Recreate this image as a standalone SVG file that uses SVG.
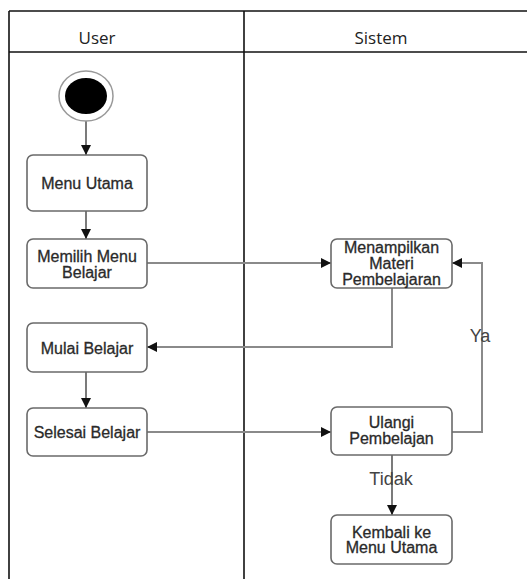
<svg xmlns="http://www.w3.org/2000/svg" width="527" height="579" viewBox="0 0 527 579">
<style>
.frame{stroke:#111;stroke-width:1.6;fill:none}
.hdr{font-family:"Open Sans","Noto Sans",sans-serif;font-size:17px;fill:#222;text-anchor:middle}
.box{fill:#fff;stroke:#6a6a6a;stroke-width:1.6}
.t{font-family:"Liberation Sans",Arial,sans-serif;font-size:16px;fill:#2a2a2a;stroke:#2a2a2a;stroke-width:0.3;text-anchor:middle}
.lbl{font-family:"Liberation Sans",Arial,sans-serif;font-size:18px;fill:#444;text-anchor:middle}
.c{stroke:#8a8a8a;stroke-width:2;fill:none}
.cs{stroke:#222;stroke-width:1.2;fill:none}
</style>
<defs>
<marker id="ah" viewBox="0 0 10 10" refX="10" refY="5" markerWidth="10" markerHeight="10" markerUnits="userSpaceOnUse" orient="auto">
<path d="M0,0 L10,5 L0,10 z" fill="#111"/>
</marker>
</defs>
<rect width="527" height="579" fill="#fff"/>
<g id="lanes">
<line class="frame" x1="9" y1="11" x2="527" y2="11"/>
<line class="frame" x1="9" y1="52" x2="527" y2="52"/>
<line class="frame" x1="9" y1="11" x2="9" y2="579"/>
<line class="frame" x1="244" y1="11" x2="244" y2="579"/>
<text class="hdr" x="97" y="44">User</text>
<text class="hdr" x="381" y="44">Sistem</text>
</g>
<g id="connectors">
<line class="cs" x1="86" y1="121" x2="86" y2="155" marker-end="url(#ah)"/>
<line class="cs" x1="86" y1="211" x2="86" y2="239" marker-end="url(#ah)"/>
<line class="c" x1="147" y1="263" x2="331" y2="263" marker-end="url(#ah)"/>
<polyline class="c" points="392,288 392,347 147,347" marker-end="url(#ah)"/>
<line class="cs" x1="86" y1="372" x2="86" y2="408" marker-end="url(#ah)"/>
<line class="c" x1="147" y1="432" x2="331" y2="432" marker-end="url(#ah)"/>
<polyline class="c" points="452,432 482,432 482,263 452,263" marker-end="url(#ah)"/>
<line class="cs" x1="392" y1="455" x2="392" y2="515" marker-end="url(#ah)"/>
<text class="lbl" x="480" y="342">Ya</text>
<text class="lbl" x="391" y="485">Tidak</text>
</g>
<g id="start">
<ellipse cx="86" cy="96" rx="27" ry="25" fill="#fff" stroke="#999" stroke-width="1.5"/>
<ellipse cx="86" cy="96" rx="21" ry="18" fill="#000"/>
</g>
<g id="menu-utama">
<rect class="box" x="27" y="155" width="120" height="56" rx="6"/>
<text class="t" x="87" y="189">Menu Utama</text>
</g>
<g id="memilih-menu">
<rect class="box" x="27" y="239" width="120" height="49" rx="6"/>
<text class="t" x="87" y="261.5">Memilih Menu</text>
<text class="t" x="87" y="277.5">Belajar</text>
</g>
<g id="menampilkan-materi">
<rect class="box" x="331" y="239" width="121" height="49" rx="6"/>
<text class="t" x="391.5" y="252.5">Menampilkan</text>
<text class="t" x="391.5" y="268.5">Materi</text>
<text class="t" x="391.5" y="285">Pembelajaran</text>
</g>
<g id="mulai-belajar">
<rect class="box" x="27" y="323" width="120" height="49" rx="6"/>
<text class="t" x="87" y="353.5">Mulai Belajar</text>
</g>
<g id="selesai-belajar">
<rect class="box" x="27" y="408" width="120" height="48" rx="6"/>
<text class="t" x="87" y="437.5">Selesai Belajar</text>
</g>
<g id="ulangi-pembelajan">
<rect class="box" x="331" y="407" width="121" height="48" rx="6"/>
<text class="t" x="391.5" y="427.5">Ulangi</text>
<text class="t" x="391.5" y="443.5">Pembelajan</text>
</g>
<g id="kembali-menu">
<rect class="box" x="331" y="515" width="121" height="49" rx="6"/>
<text class="t" x="391.5" y="537.5">Kembali ke</text>
<text class="t" x="391.5" y="553">Menu Utama</text>
</g>
</svg>
